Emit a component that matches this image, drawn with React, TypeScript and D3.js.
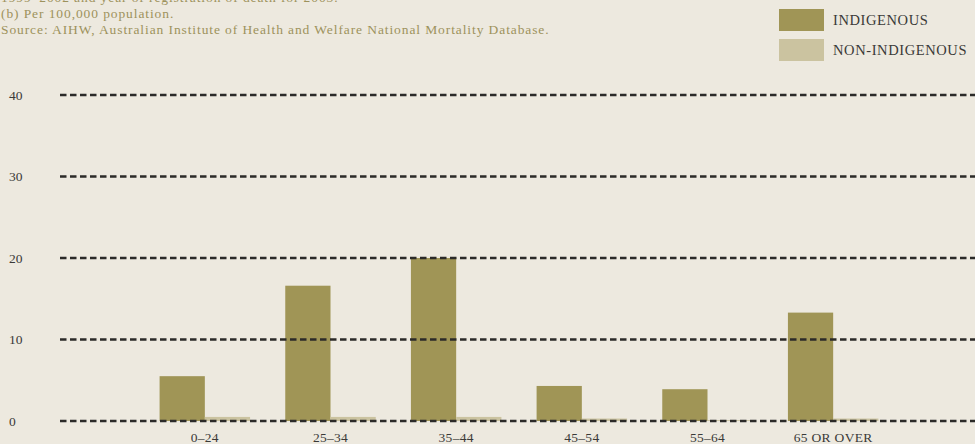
import React, { useRef, useEffect } from 'react';
import * as d3 from 'd3';

const categories = ['0–24', '25–34', '35–44', '45–54', '55–64', '65 OR OVER'];
const series = ['INDIGENOUS', 'NON-INDIGENOUS'];
const indigenous = [5.5, 16.6, 20.0, 4.3, 3.9, 13.3];
const nonIndigenous = [0.5, 0.5, 0.5, 0.3, 0.1, 0.3];
const yTicks = [0, 10, 20, 30, 40];
const notes = [
  '1999–2002 and year of registration of death for 2003.',
  '(b) Per 100,000 population.',
  'Source: AIHW, Australian Institute of Health and Welfare National Mortality Database.'
];

const W = 975;
const H = 444;
const colors = ['#a09556', '#cbc3a0'];
const FONT = '"Liberation Serif", "DejaVu Serif", serif';

const App = () => {
  const ref = useRef<SVGSVGElement>(null);

  useEffect(() => {
    const svg = d3.select(ref.current);
    svg.selectAll('*').remove();

    svg.append('rect').attr('width', W).attr('height', H).attr('fill', '#ede9df');

    const y = d3.scaleLinear().domain([0, 40]).range([421, 95]);
    const x0 = d3.scaleBand<string>()
      .domain(categories)
      .range([142, 896])
      .paddingInner(0.28)
      .paddingOuter(0.14);
    const x1 = d3.scaleBand<string>()
      .domain(series)
      .range([0, x0.bandwidth()]);

    // notes at top (first line is cut by the top edge, as in the source)
    svg.append('g')
      .selectAll('text')
      .data(notes)
      .enter().append('text')
      .attr('x', 1)
      .attr('y', (d, i) => 2 + i * 16)
      .attr('font-family', FONT)
      .attr('font-size', 13.5)
      .attr('letter-spacing', 0.9)
      .attr('fill', '#9d925c')
      .text(d => d);

    // legend
    const legend = svg.append('g');
    series.forEach((s, i) => {
      legend.append('rect')
        .attr('x', 779).attr('y', 9 + i * 30)
        .attr('width', 45).attr('height', 22)
        .attr('fill', colors[i]);
      legend.append('text')
        .attr('x', 833).attr('y', 20 + i * 30)
        .attr('dy', '0.35em')
        .attr('font-family', FONT)
        .attr('font-size', 14.5)
        .attr('letter-spacing', 0.6)
        .attr('fill', '#3a3a38')
        .text(s);
    });

    // bars
    const rows = categories.map((c, i) => ({ c, vals: [indigenous[i], nonIndigenous[i]] }));
    const groups = svg.append('g')
      .selectAll('g')
      .data(rows)
      .enter().append('g')
      .attr('transform', d => `translate(${x0(d.c)},0)`);
    groups.selectAll('rect')
      .data(d => d.vals.map((v, j) => ({ key: series[j], v, j })))
      .enter().append('rect')
      .attr('x', d => x1(d.key)!)
      .attr('y', d => y(d.v))
      .attr('width', x1.bandwidth())
      .attr('height', d => y(0) - y(d.v))
      .attr('fill', d => colors[d.j]);

    // gridlines (drawn over bars)
    svg.append('g')
      .selectAll('line')
      .data(yTicks)
      .enter().append('line')
      .attr('x1', 60).attr('x2', W)
      .attr('y1', d => y(d)).attr('y2', d => y(d))
      .attr('stroke', '#2b2a28')
      .attr('stroke-width', 2.4)
      .attr('stroke-dasharray', '6.5,3.5');

    // y labels
    svg.append('g')
      .selectAll('text')
      .data(yTicks)
      .enter().append('text')
      .attr('x', 9)
      .attr('y', d => y(d))
      .attr('dy', '0.35em')
      .attr('font-family', FONT)
      .attr('font-size', 13.5)
      .attr('fill', '#3a3a38')
      .text(d => d);

    // x labels
    svg.append('g')
      .selectAll('text')
      .data(categories)
      .enter().append('text')
      .attr('x', d => x0(d)! + x0.bandwidth() / 2)
      .attr('y', 437)
      .attr('dy', '0.35em')
      .attr('text-anchor', 'middle')
      .attr('font-family', FONT)
      .attr('font-size', 13.5)
      .attr('letter-spacing', 0.3)
      .attr('fill', '#3a3a38')
      .text(d => d);
  }, []);

  return (
    <svg ref={ref} width={W} height={H} style={{ position: 'absolute', left: 0, top: 0, display: 'block' }}></svg>
  );
};

export default App;
